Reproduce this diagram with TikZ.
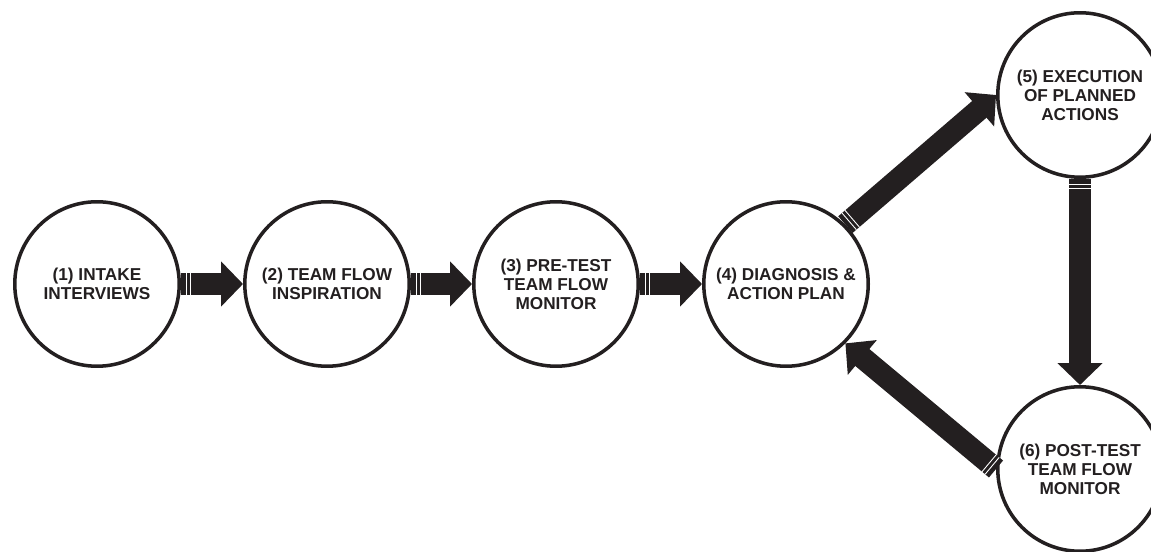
\documentclass[tikz,border=0pt]{standalone}
\usepackage{fontspec}
\setmainfont{Liberation Sans}
\usetikzlibrary{arrows.meta,decorations.markings}
\definecolor{ink}{HTML}{231F20}

\begin{document}
\begin{tikzpicture}[x=0.02cm, y=0.02cm,
    fase/.style={draw=ink, line width=2pt, circle, minimum size=3.29cm, inner sep=0pt,
        align=center, text=ink, font=\fontsize{9.8}{10.8}\selectfont\bfseries},
    taglio/.style={draw=white, line width=0.5pt, -},
    freccia/.style={draw=ink, line width=0.44cm,
        -{Triangle[width=0.88cm, length=0.44cm]},
        postaction={decorate},
        decoration={markings,
            mark=at position 0.1cm with {\draw[taglio] (0,-0.22cm) -- (0,0.22cm);},
            mark=at position 0.18cm with {\draw[taglio] (0,-0.22cm) -- (0,0.22cm);}}}]
    \useasboundingbox (0,0) rectangle (1151,551);
    \clip (0,0) rectangle (1151,551);

    %fasi in linea
    \node[fase] (c1) at (97,267) {(1) INTAKE\\INTERVIEWS};
    \node[fase] (c2) at (327,267) {(2) TEAM FLOW\\INSPIRATION};
    \node[fase] (c3) at (556,267) {(3) PRE-TEST\\TEAM FLOW\\MONITOR};
    \node[fase] (c4) at (786,267) {(4) DIAGNOSIS \&\\ACTION PLAN};
    %ciclo a destra
    \node[fase] (c5) at (1080,456) {(5) EXECUTION\\OF PLANNED\\ACTIONS};
    \node[fase] (c6) at (1080,82) {(6) POST-TEST\\TEAM FLOW\\MONITOR};

    %frecce
    \draw[freccia] (c1) -- (c2);
    \draw[freccia] (c2) -- (c3);
    \draw[freccia] (c3) -- (c4);
    \draw[freccia] (c4.45) -- (c5.180);
    \draw[freccia] (c5) -- (c6);
    \draw[freccia] (c6.180) -- (c4.-45);

\end{tikzpicture}
\end{document}
